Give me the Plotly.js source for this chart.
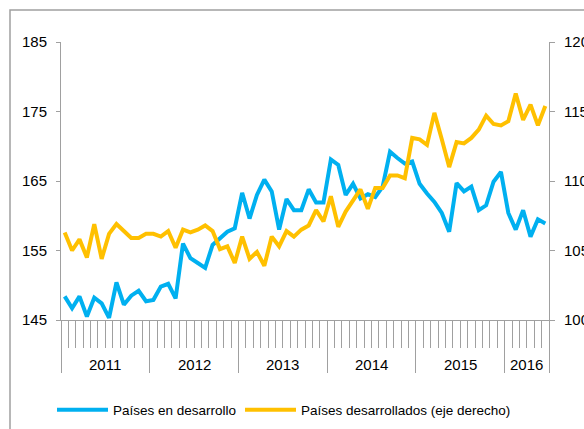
<!DOCTYPE html>
<html>
<head>
<meta charset="utf-8">
<script src="https://cdn.plot.ly/plotly-3.0.1.min.js"></script>
<style>
  html, body { margin: 0; padding: 0; background: #fff; }
  #grafico { width: 584px; height: 429px; }
</style>
</head>
<body>
<div id="grafico"></div>
<script>
// Años del eje horizontal y cuántos meses tiene cada uno
const years = ['2011', '2012', '2013', '2014', '2015', '2016'];
const monthsPerYear = [12, 12, 12, 12, 12, 6];

// Países en desarrollo (eje izquierdo)
const desarrollo = [
  148.4, 146.7, 148.4, 145.5, 148.2, 147.4, 145.3, 150.4, 147.2, 148.5, 149.2, 147.7,
  147.9, 149.8, 150.2, 148.1, 156.0, 153.9, 153.2, 152.5, 155.8, 156.8, 157.7, 158.2,
  163.3, 159.6, 163.0, 165.2, 163.5, 158.0, 162.4, 160.8, 160.8, 163.8, 161.9, 161.9,
  168.1, 167.3, 163.0, 164.6, 162.5, 163.1, 162.7, 164.2, 169.2, 168.3, 167.5, 167.8,
  164.6, 163.2, 162.0, 160.4, 157.7, 164.7, 163.5, 164.2, 160.8, 161.5, 164.9, 166.3,
  160.4, 158.0, 160.8, 157.0, 159.5, 158.9
];

// Países desarrollados (eje derecho)
const desarrollados = [
  106.3, 105.0, 105.8, 104.5, 106.9, 104.4, 106.2, 106.9, 106.4, 105.9, 105.9, 106.2,
  106.2, 106.0, 106.4, 105.2, 106.5, 106.3, 106.5, 106.8, 106.4, 105.1, 105.3, 104.1,
  106.0, 104.4, 104.9, 103.9, 106.0, 105.3, 106.4, 106.0, 106.5, 106.8, 107.9, 107.1,
  108.9, 106.7, 107.8, 108.6, 109.4, 108.0, 109.5, 109.5, 110.4, 110.4, 110.2, 113.1,
  113.0, 112.6, 114.9, 113.0, 111.0, 112.8, 112.7, 113.1, 113.7, 114.7, 114.1, 114.0,
  114.3, 116.3, 114.4, 115.5, 114.0, 115.4
];

const leftTicks = [145, 155, 165, 175, 185];
const rightTicks = [100, 105, 110, 115, 120];

// posiciones mensuales y límites de año
const xIdx = desarrollo.map((_, i) => i);
const nMonths = xIdx.length;
const monthEdges = [];
for (let i = 0; i <= nMonths; i++) monthEdges.push(i - 0.5);
const yearEdges = [-0.5];
const yearMid = [];
let acc = 0;
monthsPerYear.forEach(n => {
  yearMid.push(acc + (n - 1) / 2);
  acc += n;
  yearEdges.push(acc - 0.5);
});

const gris = '#a0a0a0';
const fuente = { family: 'Liberation Sans, Arial, sans-serif', size: 15, color: '#000' };
const fuenteLeyenda = { family: fuente.family, size: 13.5, color: '#000' };
const px = p => (p - 61) / 488;         // píxel horizontal -> papel
const py = p => (320 - p) / 278;        // píxel vertical -> papel

const data = [
  {
    x: xIdx, y: desarrollo, type: 'scatter', mode: 'lines',
    name: 'Países en desarrollo',
    line: { color: '#00B0F0', width: 4 },
    legend: 'legend'
  },
  {
    x: xIdx, y: desarrollados, type: 'scatter', mode: 'lines',
    name: 'Países desarrollados (eje derecho)',
    line: { color: '#FFC000', width: 4 },
    xaxis: 'x2', yaxis: 'y2',
    legend: 'legend2'
  }
];

const rango = [-0.5, nMonths - 0.5];

// etiquetas de año bajo el eje
const yearLabels = years.map((t, k) => ({
  x: yearMid[k], xref: 'x', y: py(365), yref: 'paper',
  text: t, showarrow: false, font: fuente, yanchor: 'middle'
}));

const layout = {
  width: 584, height: 429,
  margin: { l: 61, r: 35, t: 42, b: 109, autoexpand: false },
  paper_bgcolor: '#fff', plot_bgcolor: '#fff',
  font: fuente,
  showlegend: true,
  xaxis: {
    range: rango, tickmode: 'array', tickvals: monthEdges,
    ticks: 'outside', ticklen: 27, tickwidth: 1, tickcolor: gris,
    showticklabels: false, showline: true, linecolor: gris, linewidth: 1,
    showgrid: false, zeroline: false
  },
  xaxis2: {
    overlaying: 'x', anchor: 'y', side: 'bottom',
    range: rango, tickmode: 'array', tickvals: yearEdges,
    ticks: 'outside', ticklen: 52, tickwidth: 1, tickcolor: gris,
    showticklabels: false, showline: false, showgrid: false, zeroline: false
  },
  yaxis: {
    range: [145, 185], tickmode: 'array', tickvals: leftTicks,
    ticks: 'outside', ticklen: 4, tickcolor: gris, tickfont: fuente,
    ticklabelstandoff: 6,
    showline: true, linecolor: gris, linewidth: 1,
    showgrid: false, zeroline: false
  },
  yaxis2: {
    overlaying: 'y', side: 'right', anchor: 'x2',
    range: [100, 120], tickmode: 'array', tickvals: rightTicks,
    ticks: 'outside', ticklen: 5, tickcolor: gris, tickfont: fuente,
    ticklabelstandoff: 6,
    showline: true, linecolor: gris, linewidth: 1,
    showgrid: false, zeroline: false
  },
  legend: {
    x: px(52), y: py(410), xanchor: 'left', yanchor: 'middle',
    orientation: 'h', font: fuenteLeyenda,
    bgcolor: 'rgba(0,0,0,0)', itemwidth: 51
  },
  legend2: {
    x: px(240), y: py(410), xanchor: 'left', yanchor: 'middle',
    orientation: 'h', font: fuenteLeyenda,
    bgcolor: 'rgba(0,0,0,0)', itemwidth: 51
  },
  annotations: yearLabels,
  shapes: [
    {
      type: 'rect', xref: 'paper', yref: 'paper', layer: 'below',
      x0: px(10), x1: px(620), y0: py(470), y1: py(10),
      line: { color: gris, width: 1.5 }, fillcolor: 'rgba(0,0,0,0)'
    }
  ]
};

Plotly.newPlot('grafico', data, layout, { staticPlot: true, displayModeBar: false });
</script>
</body>
</html>
